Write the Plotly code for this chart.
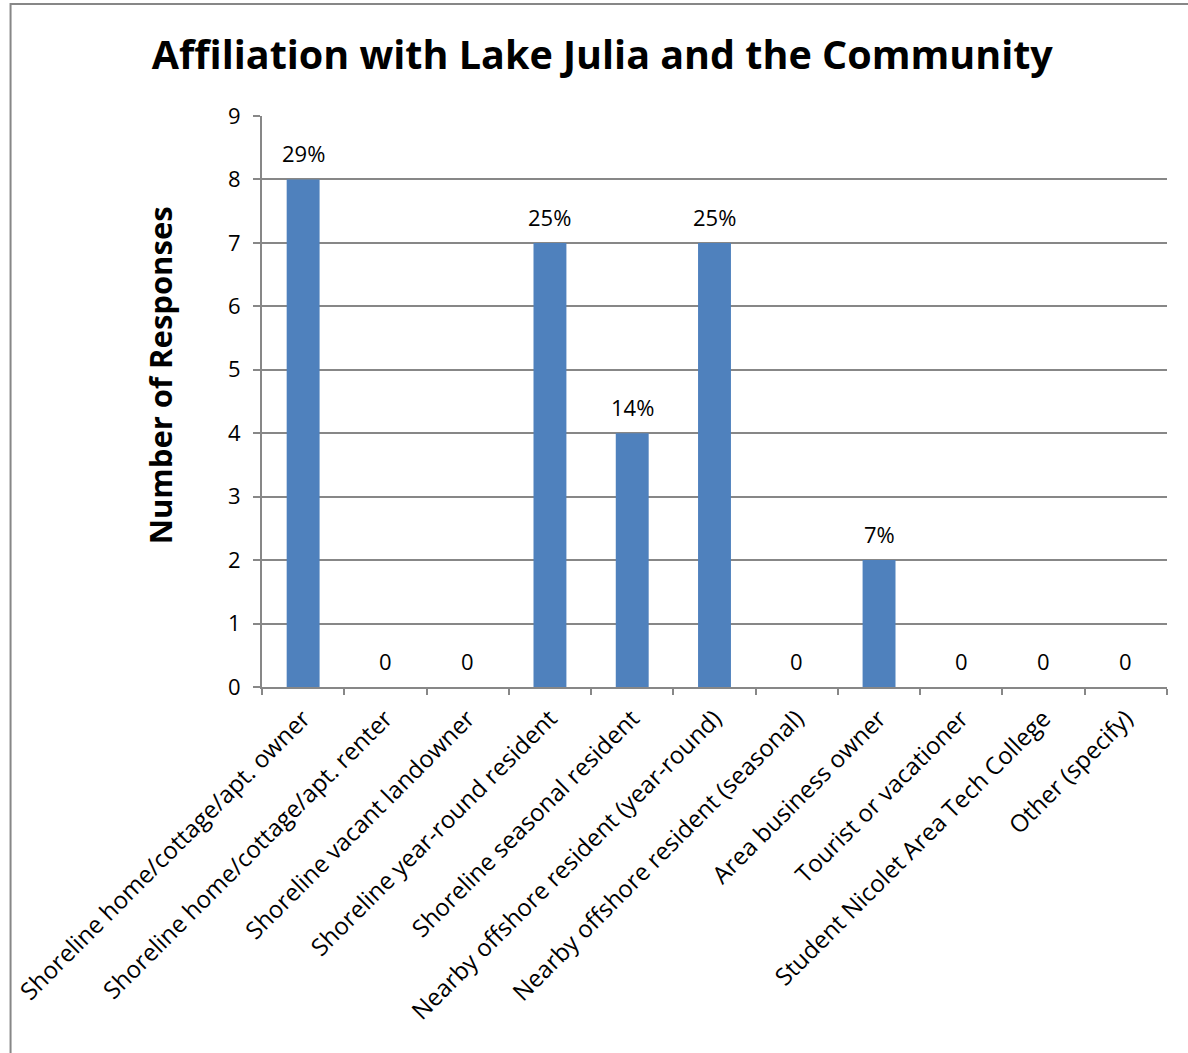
import plotly.graph_objects as go

categories = [
    "Shoreline home/cottage/apt. owner",
    "Shoreline home/cottage/apt. renter",
    "Shoreline vacant landowner",
    "Shoreline year-round resident",
    "Shoreline seasonal resident",
    "Nearby offshore resident (year-round)",
    "Nearby offshore resident (seasonal)",
    "Area business owner",
    "Tourist or vacationer",
    "Student Nicolet Area Tech College",
    "Other (specify)",
]
responses = [8, 0, 0, 7, 4, 7, 0, 2, 0, 0, 0]
bar_labels = ["29%", "0", "0", "25%", "14%", "25%", "0", "7%", "0", "0", "0"]
y_ticks = [0, 1, 2, 3, 4, 5, 6, 7, 8, 9]

FONT = "Open Sans"
GRID = "#878787"

fig = go.Figure(
    go.Bar(
        x=categories,
        y=responses,
        marker=dict(color="#4F81BD", line=dict(width=0)),
        width=0.4,
        hoverinfo="x+y",
    )
)

for cat, val, lab in zip(categories, responses, bar_labels):
    fig.add_annotation(
        x=cat, y=val, xref="x", yref="y",
        text=lab, showarrow=False,
        yanchor="middle", yshift=26,
        font=dict(family=FONT, size=22, color="black"),
    )

fig.update_layout(
    width=1188,
    height=1053,
    margin=dict(l=260, r=21, t=116, b=366),
    paper_bgcolor="white",
    plot_bgcolor="white",
    showlegend=False,
    font=dict(family=FONT, color="black"),
    title=dict(
        text="<b>Affiliation with Lake Julia and the Community</b>",
        font=dict(family=FONT, size=39.5, color="black"),
        x=0.507,
        xanchor="center",
        y=0.948,
        yanchor="middle",
    ),
)

fig.update_xaxes(
    type="category",
    tickangle=-45,
    tickfont=dict(family=FONT, size=24, color="black"),
    showline=True,
    linecolor=GRID,
    linewidth=2,
    ticks="outside",
    tickson="boundaries",
    ticklen=6,
    tickcolor=GRID,
    tickwidth=2,
    showgrid=False,
    ticklabelstandoff=6,
)

fig.update_yaxes(
    range=[0, 9],
    tickvals=y_ticks,
    tickfont=dict(family=FONT, size=22, color="black"),
    showline=True,
    linecolor=GRID,
    linewidth=2,
    ticks="outside",
    ticklen=7,
    tickcolor=GRID,
    tickwidth=2,
    showgrid=True,
    gridcolor=GRID,
    gridwidth=1.5,
    zeroline=False,
    ticklabelstandoff=8,
)

fig.add_annotation(
    text="<b>Number of Responses</b>",
    xref="paper", yref="paper",
    x=(158 - 260) / 907, y=(687 - 375) / 571,
    textangle=-90,
    showarrow=False,
    font=dict(family=FONT, size=31, color="black"),
    xanchor="center", yanchor="middle",
)

fig.add_shape(
    type="rect",
    xref="paper", yref="paper",
    x0=(8 - 260) / 907, x1=(1200 - 260) / 907,
    y0=(687 - 1070) / 571, y1=(687 - 4) / 571,
    line=dict(color=GRID, width=2),
    fillcolor="rgba(0,0,0,0)",
    layer="below",
)

fig.write_html("out.html")
